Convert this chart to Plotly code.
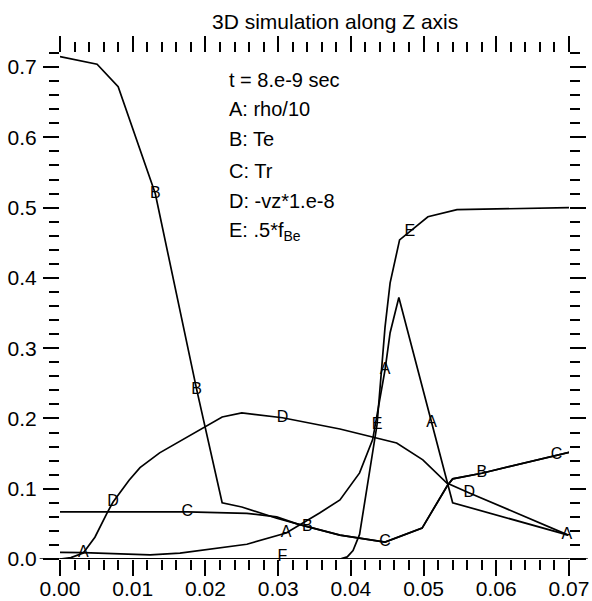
import plotly.graph_objects as go

# ---- data ----
x_A = [0.0, 0.0032, 0.0124, 0.0165, 0.0257, 0.0311, 0.0357, 0.0385, 0.0412, 0.043, 0.0447, 0.0454, 0.0466, 0.0511, 0.0533, 0.054, 0.0699]
y_A = [0.0095, 0.009, 0.006, 0.0085, 0.021, 0.037, 0.0655, 0.084, 0.1225, 0.17, 0.269, 0.322, 0.372, 0.194, 0.108, 0.08, 0.034]

x_B = [0.0, 0.0051, 0.008, 0.0131, 0.0188, 0.0223, 0.025, 0.0298, 0.034, 0.0385, 0.0447, 0.0498, 0.0533, 0.054, 0.058, 0.0683, 0.0701]
y_B = [0.715, 0.704, 0.672, 0.52, 0.241, 0.08, 0.074, 0.058, 0.046, 0.034, 0.024, 0.044, 0.105, 0.114, 0.122, 0.148, 0.152]

x_C = [0.0, 0.0175, 0.0257, 0.0298, 0.0326, 0.034, 0.0385, 0.0447, 0.0498, 0.0533, 0.054, 0.058, 0.0683, 0.0701]
y_C = [0.067, 0.067, 0.065, 0.060, 0.050, 0.046, 0.034, 0.024, 0.044, 0.105, 0.114, 0.122, 0.148, 0.152]

x_D = [0.0, 0.0015, 0.0032, 0.0048, 0.0065, 0.0073, 0.0095, 0.011, 0.0137, 0.0192, 0.0223, 0.025, 0.0306, 0.0385, 0.043, 0.0463, 0.0499, 0.0532, 0.0563, 0.0699]
y_D = [0.0, 0.002, 0.0085, 0.031, 0.066, 0.081, 0.112, 0.13, 0.151, 0.184, 0.202, 0.208, 0.201, 0.185, 0.174, 0.165, 0.141, 0.108, 0.094, 0.034]

x_E = [0.0, 0.0385, 0.0395, 0.0403, 0.0412, 0.043, 0.0436, 0.0447, 0.0454, 0.0467, 0.0481, 0.0506, 0.0546, 0.07]
y_E = [0.0, 0.0, 0.003, 0.012, 0.035, 0.15, 0.191, 0.33, 0.393, 0.454, 0.466, 0.487, 0.497, 0.5]

x_F = [0.0, 0.07]
y_F = [0.0, 0.0]

# letter-marker positions along each curve
mark_A_x = [0.0032, 0.0311, 0.0447, 0.0511, 0.0697]
mark_A_y = [0.009, 0.037, 0.269, 0.194, 0.034]
mark_B_x = [0.0131, 0.0188, 0.034, 0.058]
mark_B_y = [0.52, 0.241, 0.046, 0.122]
mark_C_x = [0.0175, 0.0447, 0.0683]
mark_C_y = [0.067, 0.024, 0.148]
mark_D_x = [0.0073, 0.0306, 0.0563]
mark_D_y = [0.081, 0.201, 0.094]
mark_E_x = [0.0436, 0.0481]
mark_E_y = [0.191, 0.466]
mark_F_x = [0.0306]
mark_F_y = [0.003]

legend_lines = ["t = 8.e-9 sec", "A: rho/10", "B: Te", "C: Tr", "D: -vz*1.e-8", "E: .5*f<sub>Be</sub>"]
legend_y = [0.682, 0.640, 0.597, 0.552, 0.509, 0.466]
title_text = "3D simulation along Z axis"

FONT = "Liberation Sans, Arial, Helvetica, sans-serif"

fig = go.Figure()
curves = [("A", x_A, y_A), ("B", x_B, y_B), ("C", x_C, y_C), ("D", x_D, y_D), ("E", x_E, y_E), ("F", x_F, y_F)]
for name, xs, ys in curves:
    fig.add_trace(go.Scatter(x=xs, y=ys, mode="lines", name=name,
                             line=dict(color="black", width=1.7), showlegend=False))

marks = [("A", mark_A_x, mark_A_y), ("B", mark_B_x, mark_B_y), ("C", mark_C_x, mark_C_y),
         ("D", mark_D_x, mark_D_y), ("E", mark_E_x, mark_E_y), ("F", mark_F_x, mark_F_y)]
for name, xs, ys in marks:
    fig.add_trace(go.Scatter(x=xs, y=ys, mode="text", text=[name] * len(xs),
                             textposition="middle center",
                             textfont=dict(family=FONT, size=16, color="black"),
                             showlegend=False, cliponaxis=False))

for txt, yy in zip(legend_lines, legend_y):
    fig.add_annotation(x=0.0229, y=yy, xref="x", yref="y", text=txt, showarrow=False,
                       xanchor="left", yanchor="middle",
                       font=dict(family=FONT, size=20, color="black"))

fig.add_annotation(x=0.54, y=1.063, xref="paper", yref="paper", text=title_text,
                   showarrow=False, xanchor="center", yanchor="middle",
                   font=dict(family=FONT, size=21, color="black"))

# baseline line at y=0 extending a bit beyond the frame
fig.add_shape(type="line", xref="paper", yref="y", x0=-0.04, x1=1.037, y0=0, y1=0,
              line=dict(color="black", width=1.7))

axis_common = dict(showgrid=False, zeroline=False, showline=False, ticks="outside",
                   mirror="ticks", ticklen=16, tickwidth=1.7, tickcolor="black",
                   automargin=False,
                   tickfont=dict(family=FONT, size=21, color="black"))

fig.update_xaxes(range=[0, 0.07], tick0=0, dtick=0.01, tickformat=".2f",
                 ticklabelstandoff=-5,
                 minor=dict(ticks="outside", dtick=0.002, tick0=0, ticklen=10,
                            tickwidth=1.7, tickcolor="black", showgrid=False),
                 **axis_common)
fig.update_yaxes(range=[0, 0.72], tick0=0, dtick=0.1, tickformat=".1f",
                 ticklabelstandoff=2,
                 minor=dict(ticks="outside", dtick=0.02, tick0=0, ticklen=10,
                            tickwidth=1.7, tickcolor="black", showgrid=False),
                 **axis_common)

fig.update_layout(width=592, height=601, margin=dict(l=60, r=23, t=53, b=42),
                  paper_bgcolor="white", plot_bgcolor="white", showlegend=False)

fig.write_html("out.html")
